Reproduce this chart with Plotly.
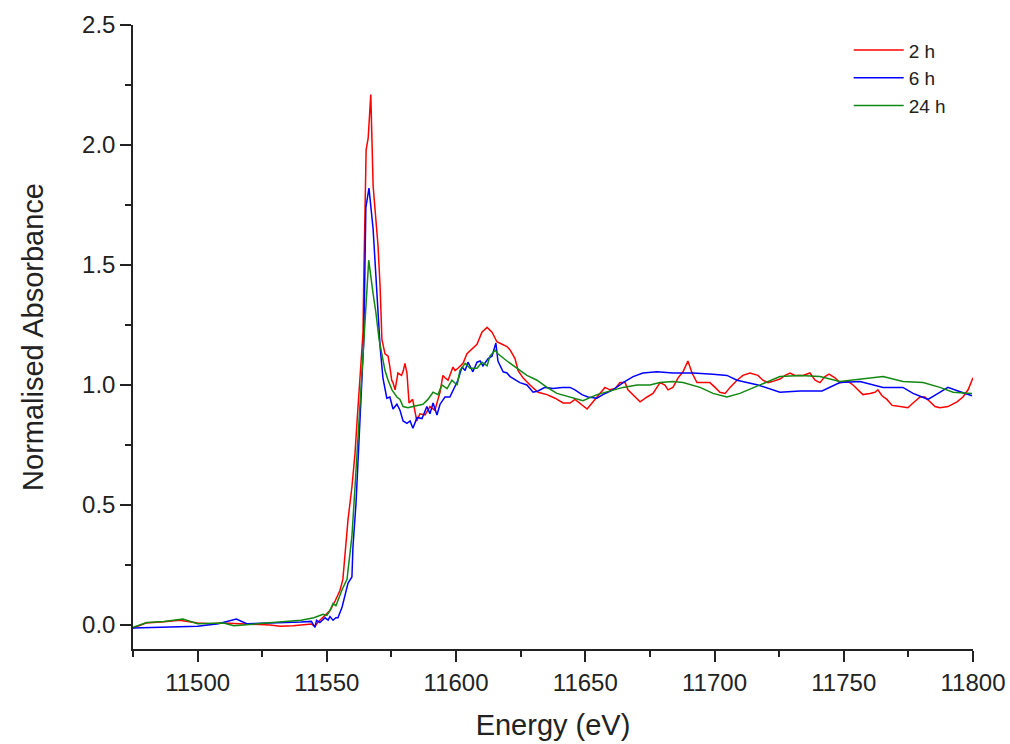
import plotly.graph_objects as go

# ---- data (energy in eV, normalised absorbance) ----
e_2h = [11475, 11480, 11487, 11493, 11500, 11505, 11510, 11520, 11528, 11532, 11537, 11544,
        11545.4, 11546.5, 11547.3, 11549.3, 11551.2, 11553.2, 11555.1, 11556.2, 11557.0, 11558.2,
        11559.7, 11560.9, 11561.7, 11564.0, 11564.3, 11564.7, 11565.2, 11566.0, 11567.0, 11567.9,
        11569.0, 11569.8, 11570.6, 11571.3, 11572.5, 11573.7, 11574.4, 11575.1, 11575.6, 11576.4,
        11577.5, 11578.9, 11579.6, 11580.2, 11581.0, 11581.8, 11583.2, 11584.8, 11586.0, 11588.0,
        11589.9, 11591.8, 11593.8, 11594.9, 11595.7, 11596.9, 11598.8, 11599.6, 11600.7, 11602.7,
        11604.2, 11606.2, 11608.1, 11610.0, 11612.0, 11613.9, 11615.8, 11617.8, 11619.7, 11620.9,
        11622.8, 11624.0, 11625.9, 11628.6, 11631.7, 11635.2, 11638.3, 11641.4, 11644.1, 11646.0,
        11648.7, 11650.7, 11652.6, 11655.7, 11657.6, 11659.5, 11661.5, 11663.4, 11665.4, 11666.5,
        11668.5, 11671.2, 11673.9, 11676.2, 11678.9, 11680.8, 11682.0, 11683.9, 11685.9, 11687.8,
        11689.7, 11691.3, 11693.2, 11695.5, 11698.2, 11700.2, 11702.1, 11704.1, 11706.0, 11708.7,
        11711.0, 11713.7, 11716.8, 11718.7, 11720.7, 11722.6, 11725.3, 11727.3, 11729.2, 11731.1,
        11734.2, 11736.9, 11738.9, 11740.8, 11742.7, 11744.3, 11746.6, 11748.5, 11751.6, 11753.6,
        11755.5, 11757.4, 11760.1, 11762.1, 11763.2, 11764.8, 11766.7, 11768.7, 11771.8, 11774.8,
        11776.8, 11779.5, 11781.4, 11783.4, 11785.3, 11787.2, 11790.3, 11793.8, 11796.1, 11798.1,
        11800.0]
a_2h = [-0.013, 0.008, 0.014, 0.02, 0.008, 0.005, 0.008, 0.005, 0.0, -0.005, -0.003, 0.004,
        -0.005, 0.01, 0.02, 0.04, 0.06, 0.10, 0.145, 0.19, 0.30, 0.44,
        0.575, 0.715, 0.85, 1.22, 1.45, 1.72, 1.98, 2.03, 2.21, 1.83,
        1.69, 1.58, 1.41, 1.19, 1.13, 1.12, 1.075, 1.02, 1.01, 0.98,
        1.05, 1.04, 1.06, 1.09, 1.05, 0.925, 0.94, 0.85, 0.88, 0.875,
        0.91, 0.895, 0.97, 1.04, 1.03, 1.02, 1.075, 1.06, 1.07, 1.09,
        1.13, 1.15, 1.17, 1.22, 1.24, 1.22, 1.18, 1.17, 1.16, 1.146,
        1.11, 1.06, 1.03, 1.0, 0.97, 0.96, 0.945, 0.925, 0.925, 0.94,
        0.915, 0.90, 0.925, 0.965, 0.99, 0.98, 0.985, 1.01, 1.01, 0.98,
        0.96, 0.93, 0.95, 0.965, 1.01, 1.0, 0.98, 0.99, 1.03, 1.055,
        1.10, 1.05, 1.01, 1.01, 1.01, 0.99, 0.97, 0.965, 0.99, 1.02,
        1.04, 1.05, 1.04, 1.02, 1.01, 1.015, 1.025, 1.04, 1.05, 1.04,
        1.04, 1.05, 1.02, 1.01, 1.035, 1.045, 1.03, 1.01, 1.015, 1.0,
        0.98, 0.96, 0.965, 0.97, 0.98, 0.955, 0.94, 0.915, 0.91, 0.905,
        0.925, 0.95, 0.95, 0.93, 0.91, 0.905, 0.91, 0.93, 0.95, 0.98,
        1.03]

e_6h = [11475, 11490, 11500, 11508, 11515, 11519, 11530, 11540, 11544, 11545.4, 11546, 11547.3,
        11549.3, 11550.5, 11551.2, 11552.4, 11553.5, 11554.3, 11555.9, 11557.0, 11558.2, 11559.7,
        11560.1, 11561.3, 11562.1, 11562.8, 11564.3, 11565.1, 11566.3, 11567.9, 11569.3, 11570.6,
        11571.7, 11573.2, 11574.4, 11575.6, 11577.1, 11578.3, 11579.5, 11581.0, 11582.2, 11583.3,
        11584.9, 11586.8, 11588.7, 11589.9, 11591.1, 11592.6, 11593.8, 11595.7, 11597.6, 11598.8,
        11600.7, 11602.3, 11603.5, 11604.6, 11606.5, 11608.1, 11609.3, 11610.4, 11612.4, 11613.9,
        11615.4, 11616.2, 11618.2, 11619.7, 11620.9, 11624.7, 11627.4, 11629.8, 11631.7, 11634.4,
        11637.5, 11641.0, 11644.1, 11646.0, 11648.7, 11651.0, 11654.5, 11656.8, 11660.7, 11664.6,
        11668.5, 11672.3, 11677.7, 11683.9, 11691.7, 11699.4, 11704.8, 11708.7, 11712.6, 11716.8,
        11725.3, 11733.1, 11741.6, 11744.7, 11748.5, 11756.3, 11761.3, 11765.2, 11772.9, 11776.8,
        11780.3, 11782.6, 11786.5, 11790.3, 11794.2, 11799.6]
a_6h = [-0.013, -0.01, -0.005, 0.005, 0.025, 0.005, 0.008, 0.012, 0.015, -0.01, 0.02, 0.01,
        0.03, 0.02, 0.035, 0.02, 0.03, 0.03, 0.075, 0.12, 0.175, 0.2,
        0.325, 0.51, 0.69, 0.85, 1.19, 1.74, 1.82, 1.65, 1.40, 1.16,
        1.03, 0.945, 0.95, 0.90, 0.92, 0.895, 0.85, 0.84, 0.85, 0.82,
        0.865, 0.86, 0.91, 0.88, 0.925, 0.875, 0.92, 0.95, 0.95, 0.98,
        1.02, 1.075, 1.06, 1.095, 1.055, 1.095, 1.10, 1.08, 1.11, 1.12,
        1.175, 1.10, 1.055, 1.05, 1.035, 1.01, 1.0, 0.97, 0.975, 0.99,
        0.985, 0.99, 0.99, 0.98, 0.96, 0.95, 0.945, 0.96, 0.98, 1.01,
        1.035, 1.05, 1.055, 1.05, 1.05, 1.045, 1.04, 1.02, 1.01, 1.0,
        0.97, 0.975, 0.975, 0.99, 1.01, 1.015, 1.0, 0.99, 0.99, 0.965,
        0.95, 0.94, 0.965, 0.99, 0.975, 0.955]

e_24h = [11475, 11480.4, 11487, 11494.3, 11500, 11505, 11510, 11514, 11520, 11530, 11540, 11545,
         11547.3, 11548.5, 11550, 11551.2, 11552.4, 11553.5, 11555.1, 11556, 11557.8, 11559.7,
         11560.9, 11561.7, 11562.4, 11564.3, 11565.1, 11566.2, 11567.9, 11569.0, 11570.2, 11571.3,
         11572.5, 11573.7, 11575.2, 11577.1, 11578.3, 11579.5, 11581.4, 11583.3, 11585.3, 11587.2,
         11589.1, 11591.1, 11593.0, 11594.5, 11596.5, 11598.4, 11600.4, 11601.5, 11603.5, 11605.4,
         11608.1, 11610.0, 11612.0, 11613.1, 11615.1, 11616.2, 11619.7, 11623.6, 11627.4, 11631.3,
         11635.2, 11639.0, 11644.1, 11649.1, 11654.5, 11659.5, 11664.6, 11670.0, 11675.0, 11678.9,
         11683.9, 11687.8, 11694.4, 11699.4, 11704.8, 11709.8, 11717.6, 11725.3, 11733.1, 11740.8,
         11748.5, 11756.3, 11765.2, 11772.9, 11780.7, 11787.2, 11792.3, 11799.6]
a_24h = [-0.01, 0.01, 0.015, 0.025, 0.005, 0.005, 0.008, -0.003, 0.002, 0.01, 0.02, 0.03,
         0.04, 0.045, 0.04, 0.06, 0.09, 0.08, 0.125, 0.15, 0.19, 0.37,
         0.575, 0.715, 0.85, 1.19, 1.35, 1.52, 1.38, 1.30, 1.19, 1.13,
         1.06, 1.02, 0.98, 0.95, 0.94, 0.91, 0.905, 0.91, 0.915, 0.92,
         0.94, 0.97, 0.96, 1.0, 0.985, 1.02, 1.0, 1.06, 1.09, 1.07,
         1.07, 1.095, 1.08, 1.12, 1.145, 1.13, 1.10, 1.07, 1.04, 1.02,
         0.99, 0.965, 0.95, 0.935, 0.96, 0.975, 0.99, 1.0, 1.0, 1.01,
         1.015, 1.01, 0.99, 0.965, 0.95, 0.965, 1.0, 1.035, 1.04, 1.035,
         1.015, 1.025, 1.035, 1.015, 1.01, 0.99, 0.97, 0.965]

series = [("2 h", e_2h, a_2h, "#FF0000"),
          ("6 h", e_6h, a_6h, "#0000FF"),
          ("24 h", e_24h, a_24h, "#118811")]

fig = go.Figure()
for name, x, y, col in series:
    fig.add_trace(go.Scatter(x=x, y=y, mode="lines", name=name,
                             line=dict(color=col, width=1.5)))

FONT = "Arial, Liberation Sans"
axis_common = dict(showgrid=False, zeroline=False, showline=True, linecolor="#222",
                   linewidth=1.5, ticks="outside", ticklen=11, tickwidth=1.5,
                   tickcolor="#222", tickfont=dict(family=FONT, size=24, color="#222"),
                   mirror=False, automargin=False)

fig.update_xaxes(range=[11475, 11800], tick0=11500, dtick=50, tickformat="d",
                 title=dict(text="Energy (eV)", font=dict(family=FONT, size=29, color="#222"),
                            standoff=20),
                 minor=dict(ticks="outside", ticklen=6, tickwidth=1.5, tickcolor="#222", dtick=25, tick0=11500),
                 **axis_common)
fig.update_yaxes(range=[-0.1, 2.5], tick0=0, dtick=0.5, tickformat=".1f",
                 title=dict(text="Normalised Absorbance", font=dict(family=FONT, size=29, color="#222"),
                            standoff=30),
                 minor=dict(ticks="outside", ticklen=6, tickwidth=1.5, tickcolor="#222", dtick=0.25, tick0=0),
                 **axis_common)

fig.update_layout(width=1010, height=744,
                  margin=dict(l=133, r=37, t=25, b=95),
                  plot_bgcolor="white", paper_bgcolor="white",
                  legend=dict(x=0.852, y=0.99, xanchor="left", yanchor="top",
                              bgcolor="rgba(0,0,0,0)", itemwidth=50,
                              font=dict(family=FONT, size=19, color="#222")),
                  showlegend=True)

fig.write_html("out.html")
